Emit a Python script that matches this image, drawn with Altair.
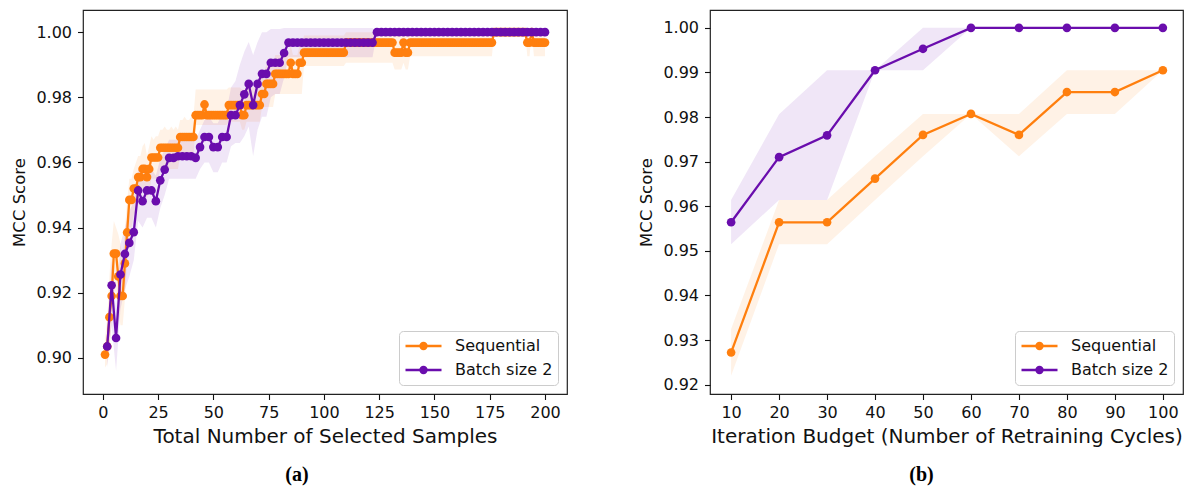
import altair as alt
import pandas as pd

# ---------------- Panel (a): MCC vs total number of selected samples ----------------
seq_x = list(range(1, 201))
seq_mean = [
    0.901, 0.9035, 0.9125, 0.919, 0.932, 0.932, 0.925, 0.919, 0.919, 0.929,
    0.9385, 0.9485, 0.9485, 0.952, 0.952, 0.9555, 0.9555, 0.958, 0.958, 0.9555,
    0.958, 0.9615, 0.9615, 0.9615, 0.9615, 0.9645, 0.9645, 0.9645, 0.9645, 0.9645,
    0.9645, 0.9645, 0.9645, 0.9645, 0.9678, 0.9678, 0.9678, 0.9678, 0.9678, 0.9678,
    0.9678, 0.9745, 0.9745, 0.9745, 0.9745, 0.9778, 0.9745, 0.9745, 0.9745, 0.9745,
    0.9745, 0.9745, 0.9745, 0.9745, 0.9745, 0.9745, 0.9776, 0.9776, 0.9776, 0.9776,
    0.9776, 0.9776, 0.9745, 0.9745, 0.9776, 0.9776, 0.9776, 0.9776, 0.9776, 0.9776,
    0.9776, 0.981, 0.981, 0.9841, 0.9841, 0.9841, 0.9841, 0.9872, 0.9872, 0.9872,
    0.9872, 0.9872, 0.9872, 0.9872, 0.9906, 0.9872, 0.9872, 0.9872, 0.9906, 0.9906,
    0.9937, 0.9937, 0.9937, 0.9937, 0.9937, 0.9937, 0.9937, 0.9937, 0.9937, 0.9937,
    0.9937, 0.9937, 0.9937, 0.9937, 0.9937, 0.9937, 0.9937, 0.9937, 0.9937, 0.9968,
    0.9968, 0.9968, 0.9968, 0.9968, 0.9968, 0.9968, 0.9968, 0.9968, 0.9968, 0.9968,
    0.9968, 0.9968, 0.9968, 0.9968, 0.9968, 0.9968, 0.9968, 0.9968, 0.9968, 0.9968,
    0.9968, 0.9937, 0.9937, 0.9937, 0.9937, 0.9968, 0.9937, 0.9937, 0.9968, 0.9968,
    0.9968, 0.9968, 0.9968, 0.9968, 0.9968, 0.9968, 0.9968, 0.9968, 0.9968, 0.9968,
    0.9968, 0.9968, 0.9968, 0.9968, 0.9968, 0.9968, 0.9968, 0.9968, 0.9968, 0.9968,
    0.9968, 0.9968, 0.9968, 0.9968, 0.9968, 0.9968, 0.9968, 0.9968, 0.9968, 0.9968,
    0.9968, 0.9968, 0.9968, 0.9968, 0.9968, 0.9968, 1.0, 1.0, 1.0, 1.0,
    1.0, 1.0, 1.0, 1.0, 1.0, 1.0, 1.0, 1.0, 1.0, 1.0,
    1.0, 0.9968, 0.9968, 1.0, 0.9968, 0.9968, 0.9968, 0.9968, 0.9968, 0.9968,
]
seq_lo = [
    0.897, 0.898, 0.903, 0.910, 0.921, 0.920, 0.915, 0.910, 0.910, 0.918,
    0.929, 0.940, 0.940, 0.944, 0.945, 0.948, 0.949, 0.952, 0.951, 0.949,
    0.951, 0.955, 0.955, 0.955, 0.955, 0.958, 0.958, 0.958, 0.958, 0.958,
    0.958, 0.958, 0.958, 0.958, 0.962, 0.962, 0.962, 0.962, 0.962, 0.962,
    0.962, 0.9715, 0.9715, 0.9715, 0.9715, 0.9715, 0.9715, 0.9715, 0.9715, 0.9715,
    0.9715, 0.9715, 0.9715, 0.9715, 0.9715, 0.9715, 0.9725, 0.9725, 0.9725, 0.9725,
    0.9725, 0.9725, 0.970, 0.970, 0.9725, 0.9725, 0.9725, 0.9725, 0.9725, 0.9725,
    0.9725, 0.977, 0.977, 0.977, 0.977, 0.977, 0.977, 0.981, 0.981, 0.981,
    0.981, 0.981, 0.981, 0.981, 0.981, 0.981, 0.981, 0.981, 0.981, 0.981,
    0.9896, 0.9896, 0.9896, 0.9896, 0.9896, 0.9896, 0.9896, 0.9896, 0.9896, 0.9896,
    0.9896, 0.9896, 0.9896, 0.9896, 0.9896, 0.9896, 0.9896, 0.9896, 0.9896, 0.9906,
    0.9906, 0.9906, 0.9906, 0.9906, 0.9906, 0.9906, 0.9906, 0.9906, 0.9906, 0.9906,
    0.9906, 0.9906, 0.9906, 0.9906, 0.9906, 0.9906, 0.9906, 0.9906, 0.9906, 0.9906,
    0.9906, 0.9885, 0.9885, 0.9885, 0.9885, 0.9906, 0.9885, 0.9885, 0.9926, 0.9926,
    0.9926, 0.9926, 0.9926, 0.9926, 0.9926, 0.9926, 0.9926, 0.9926, 0.9926, 0.9926,
    0.9926, 0.9926, 0.9926, 0.9926, 0.9926, 0.9926, 0.9926, 0.9926, 0.9926, 0.9926,
    0.9926, 0.9926, 0.9926, 0.9926, 0.9926, 0.9926, 0.9926, 0.9926, 0.9926, 0.9926,
    0.9926, 0.9926, 0.9926, 0.9926, 0.9926, 0.9926, 1.0, 1.0, 1.0, 1.0,
    1.0, 1.0, 1.0, 1.0, 1.0, 1.0, 1.0, 1.0, 1.0, 1.0,
    1.0, 0.9926, 0.9926, 1.0, 0.9926, 0.9926, 0.9926, 0.9926, 0.9926, 0.9926,
]
seq_hi = [
    0.906, 0.912, 0.925, 0.935, 0.942, 0.940, 0.938, 0.935, 0.930, 0.940,
    0.948, 0.955, 0.955, 0.958, 0.960, 0.962, 0.962, 0.965, 0.966, 0.962,
    0.965, 0.968, 0.967, 0.968, 0.968, 0.970, 0.970, 0.971, 0.970, 0.970,
    0.971, 0.970, 0.971, 0.970, 0.973, 0.973, 0.974, 0.973, 0.973, 0.974,
    0.974, 0.9824, 0.9824, 0.9824, 0.9824, 0.9824, 0.9824, 0.9824, 0.9824, 0.9824,
    0.9824, 0.9824, 0.9824, 0.9824, 0.9824, 0.9824, 0.9830, 0.9830, 0.9830, 0.9830,
    0.9830, 0.9830, 0.9824, 0.9824, 0.9830, 0.9830, 0.9830, 0.9830, 0.9830, 0.9830,
    0.9830, 0.9880, 0.9880, 0.9900, 0.9900, 0.9900, 0.9900, 0.9930, 0.9930, 0.9930,
    0.9930, 0.9930, 0.9930, 0.9930, 0.9960, 0.9930, 0.9930, 0.9930, 0.9960, 0.9960,
    0.9990, 0.9990, 0.9990, 0.9990, 0.9990, 0.9990, 0.9990, 0.9990, 0.9990, 0.9990,
    0.9990, 0.9990, 0.9990, 0.9990, 0.9990, 0.9990, 0.9990, 0.9990, 0.9990, 1.0,
    1.0, 1.0, 1.0, 1.0, 1.0, 1.0, 1.0, 1.0, 1.0, 1.0,
    1.0, 1.0, 1.0, 1.0, 1.0, 1.0, 1.0, 1.0, 1.0, 1.0,
    1.0, 1.0, 1.0, 1.0, 1.0, 1.0, 1.0, 1.0, 1.0, 1.0,
    1.0, 1.0, 1.0, 1.0, 1.0, 1.0, 1.0, 1.0, 1.0, 1.0,
    1.0, 1.0, 1.0, 1.0, 1.0, 1.0, 1.0, 1.0, 1.0, 1.0,
    1.0, 1.0, 1.0, 1.0, 1.0, 1.0, 1.0, 1.0, 1.0, 1.0,
    1.0, 1.0, 1.0, 1.0, 1.0, 1.0, 1.0, 1.0, 1.0, 1.0,
    1.0, 1.0, 1.0, 1.0, 1.0, 1.0, 1.0, 1.0, 1.0, 1.0,
    1.0, 1.0, 1.0, 1.0, 1.0, 1.0, 1.0, 1.0, 1.0, 1.0,
]

bat_x = list(range(2, 201, 2))
bat_mean = [
    0.9035, 0.9223, 0.9061, 0.9256, 0.9319, 0.9353, 0.9386, 0.9514, 0.9481, 0.9514,
    0.9514, 0.9481, 0.9545, 0.9578, 0.9614, 0.9614, 0.9619, 0.9619, 0.9619, 0.9619,
    0.9614, 0.9647, 0.9678, 0.9678, 0.9647, 0.9647, 0.9678, 0.9678, 0.9745, 0.9745,
    0.9776, 0.9809, 0.9841, 0.9776, 0.9841, 0.9872, 0.9872, 0.9906, 0.9906, 0.9906,
    0.9936, 0.9968, 0.9968, 0.9968, 0.9968, 0.9968, 0.9968, 0.9968, 0.9968, 0.9968,
    0.9968, 0.9968, 0.9968, 0.9968, 0.9968, 0.9968, 0.9968, 0.9968, 0.9968, 0.9968,
    0.9968, 1.0, 1.0, 1.0, 1.0, 1.0, 1.0, 1.0, 1.0, 1.0,
    1.0, 1.0, 1.0, 1.0, 1.0, 1.0, 1.0, 1.0, 1.0, 1.0,
    1.0, 1.0, 1.0, 1.0, 1.0, 1.0, 1.0, 1.0, 1.0, 1.0,
    1.0, 1.0, 1.0, 1.0, 1.0, 1.0, 1.0, 1.0, 1.0, 1.0,
]
bat_lo = [
    0.897, 0.910, 0.896, 0.915, 0.921, 0.925, 0.930, 0.942, 0.940, 0.943,
    0.943, 0.940, 0.946, 0.950, 0.955, 0.955, 0.955, 0.955, 0.955, 0.955,
    0.955, 0.958, 0.960, 0.960, 0.957, 0.957, 0.960, 0.960, 0.965, 0.966,
    0.966, 0.968, 0.971, 0.962, 0.970, 0.974, 0.974, 0.980, 0.981, 0.981,
    0.986, 0.9923, 0.9923, 0.9923, 0.9923, 0.9923, 0.9923, 0.9923, 0.9923, 0.9923,
    0.9923, 0.9923, 0.9923, 0.9923, 0.9923, 0.9923, 0.9923, 0.9923, 0.9923, 0.9923,
    0.9923, 1.0, 1.0, 1.0, 1.0, 1.0, 1.0, 1.0, 1.0, 1.0,
    1.0, 1.0, 1.0, 1.0, 1.0, 1.0, 1.0, 1.0, 1.0, 1.0,
    1.0, 1.0, 1.0, 1.0, 1.0, 1.0, 1.0, 1.0, 1.0, 1.0,
    1.0, 1.0, 1.0, 1.0, 1.0, 1.0, 1.0, 1.0, 1.0, 1.0,
]
bat_hi = [
    0.908, 0.930, 0.915, 0.935, 0.940, 0.945, 0.948, 0.958, 0.956, 0.958,
    0.958, 0.956, 0.961, 0.964, 0.967, 0.967, 0.967, 0.967, 0.967, 0.967,
    0.967, 0.970, 0.973, 0.974, 0.972, 0.972, 0.975, 0.976, 0.983, 0.985,
    0.990, 0.994, 0.997, 0.993, 0.997, 1.0, 1.0, 1.001, 1.001, 1.001,
    1.0013, 1.0013, 1.0013, 1.0013, 1.0013, 1.0013, 1.0013, 1.0013, 1.0013, 1.0013,
    1.0013, 1.0013, 1.0013, 1.0013, 1.0013, 1.0013, 1.0013, 1.0013, 1.0013, 1.0013,
    1.0013, 1.0, 1.0, 1.0, 1.0, 1.0, 1.0, 1.0, 1.0, 1.0,
    1.0, 1.0, 1.0, 1.0, 1.0, 1.0, 1.0, 1.0, 1.0, 1.0,
    1.0, 1.0, 1.0, 1.0, 1.0, 1.0, 1.0, 1.0, 1.0, 1.0,
    1.0, 1.0, 1.0, 1.0, 1.0, 1.0, 1.0, 1.0, 1.0, 1.0,
]

# ---------------- Panel (b): MCC vs iteration budget ----------------
budget = [10, 20, 30, 40, 50, 60, 70, 80, 90, 100]
seqb_mean = [0.9272, 0.9564, 0.9564, 0.9662, 0.9760, 0.9807, 0.9760, 0.9856, 0.9856, 0.9905]
seqb_lo = [0.9220, 0.9515, 0.9515, 0.9614, 0.9712, 0.9807, 0.9712, 0.9807, 0.9807, 0.9905]
seqb_hi = [0.9325, 0.9614, 0.9614, 0.9712, 0.9807, 0.9807, 0.9807, 0.9905, 0.9905, 0.9905]
batb_mean = [0.9564, 0.9710, 0.9759, 0.9905, 0.9953, 1.0, 1.0, 1.0, 1.0, 1.0]
batb_lo = [0.9515, 0.9614, 0.9614, 0.9905, 0.9905, 1.0, 1.0, 1.0, 1.0, 1.0]
batb_hi = [0.9614, 0.9806, 0.9905, 0.9905, 1.0, 1.0, 1.0, 1.0, 1.0, 1.0]

SERIES = ["Sequential", "Batch size 2"]
COLORS = ["#ff7f0e", "#6a0dad"]
FONT = "DejaVu Sans"
TXT = "#111111"

LEGEND_PATH = ("M-1,0L1,0"
               "M0.169,0A0.169,0.169,0,1,1,-0.169,0A0.169,0.169,0,1,1,0.169,0"
               "M0.056,0A0.056,0.056,0,1,1,-0.056,0A0.056,0.056,0,1,1,0.056,0")


def frame(x, mean, lo, hi, name):
    return pd.DataFrame({"x": x, "mean": mean, "lo": lo, "hi": hi, "series": name})


def panel(dfs, xdom, ydom, xticks, yticks, xtitle, caption, width, height, cap_dx):
    xs = alt.Scale(domain=xdom, nice=False, zero=False)
    ys = alt.Scale(domain=ydom, nice=False, zero=False)
    xax = alt.Axis(values=xticks, title=xtitle, format="d", labelPadding=5,
                   titleFontSize=20, titlePadding=6)
    yax = alt.Axis(values=yticks, title="MCC Score", format=".2f", labelPadding=6,
                   titleFontSize=16.5, titlePadding=8)
    cscale = alt.Scale(domain=SERIES, range=COLORS)
    leg = alt.Legend(orient="bottom-right", offset=9, symbolType=LEGEND_PATH,
                     symbolSize=1296, symbolStrokeWidth=2.3, labelFontSize=16,
                     labelFont=FONT, labelColor=TXT, padding=5, fillColor="white",
                     strokeColor="#cccccc", cornerRadius=4, rowPadding=4,
                     clipHeight=20, labelOffset=12, symbolOpacity=1)
    layers = []
    for df, col in zip(dfs, COLORS):
        layers.append(alt.Chart(df).mark_area(opacity=0.1, color=col).encode(
            x=alt.X("x:Q", scale=xs, axis=xax),
            y=alt.Y("lo:Q", scale=ys, axis=yax),
            y2="hi:Q"))
    for df, col in zip(dfs, COLORS):
        layers.append(alt.Chart(df).mark_line(strokeWidth=2.3).encode(
            x=alt.X("x:Q", scale=xs, axis=xax),
            y=alt.Y("mean:Q", scale=ys, axis=yax),
            color=alt.Color("series:N", scale=cscale, legend=leg, title=None)))
        layers.append(alt.Chart(df).mark_circle(size=75, opacity=1, color=col).encode(
            x=alt.X("x:Q", scale=xs, axis=xax),
            y=alt.Y("mean:Q", scale=ys, axis=yax)))
    return alt.layer(*layers).properties(
        width=width, height=height,
        title=alt.TitleParams(caption, orient="bottom", font="Liberation Serif",
                              fontSize=20, fontWeight="bold", color="black",
                              offset=18, frame="group", anchor="middle", dx=cap_dx))


left = panel(
    [frame(seq_x, seq_mean, seq_lo, seq_hi, "Sequential"),
     frame(bat_x, bat_mean, bat_lo, bat_hi, "Batch size 2")],
    [-8.95, 209.95], [0.8889, 1.0068],
    [0, 25, 50, 75, 100, 125, 150, 175, 200],
    [0.90, 0.92, 0.94, 0.96, 0.98, 1.00],
    "Total Number of Selected Samples", "(a)", 484, 384, -28)

right = panel(
    [frame(budget, seqb_mean, seqb_lo, seqb_hi, "Sequential"),
     frame(budget, batb_mean, batb_lo, batb_hi, "Batch size 2")],
    [5.6, 104.2], [0.9179, 1.0040],
    budget,
    [0.92, 0.93, 0.94, 0.95, 0.96, 0.97, 0.98, 0.99, 1.00],
    "Iteration Budget (Number of Retraining Cycles)", "(b)", 473, 384, -25)

chart = alt.hconcat(left, right, spacing=70).resolve_legend(color="independent").properties(
    padding={"left": 3, "top": 1, "right": 0, "bottom": 0},
    background="white"
).configure_view(
    stroke="#222222", strokeWidth=1.2
).configure_axis(
    domain=False, grid=False, ticks=True, tickSize=5.5, tickWidth=1.1, tickColor=TXT,
    labelFont=FONT, labelFontSize=16, labelColor=TXT,
    titleFont=FONT, titleFontWeight="normal", titleColor=TXT
)

chart.save("out.html", embed_options={"renderer": "svg", "actions": False})
